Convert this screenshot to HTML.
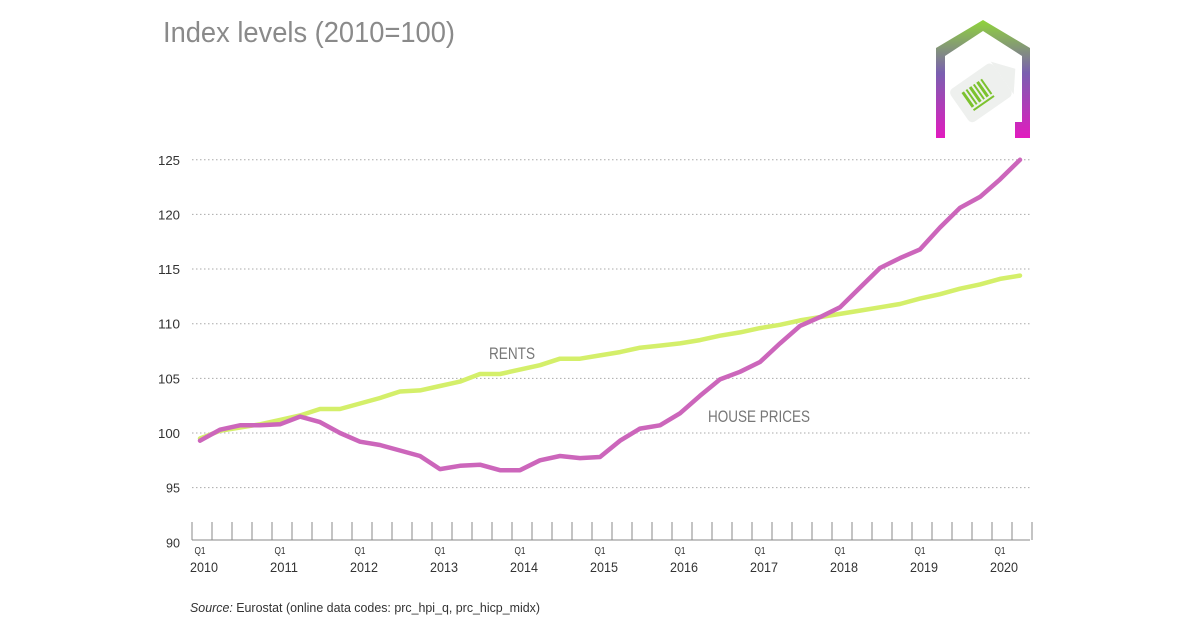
<!DOCTYPE html>
<html><head><meta charset="utf-8"><style>
body{margin:0;background:#fff;width:1200px;height:627px;overflow:hidden;font-family:"Liberation Sans",sans-serif}
</style></head><body>
<svg width="1200" height="627" xmlns="http://www.w3.org/2000/svg" font-family="Liberation Sans, sans-serif">
<defs><linearGradient id="g" x1="0" y1="0" x2="0" y2="1">
<stop offset="0" stop-color="#8fd43a"/><stop offset="0.45" stop-color="#7a5fb0"/><stop offset="1" stop-color="#e21bbf"/></linearGradient></defs>
<text x="163" y="42" font-size="29" fill="#8a8a8a" textLength="292" lengthAdjust="spacingAndGlyphs">Index levels (2010=100)</text>
<path d="M936,138 L936,48 L983,20 L1030,48 L1030,138 L1015,138 L1015,122 L1022,122 L1022,56 L983,31 L945,56 L945,138 Z" fill="url(#g)"/>
<g transform="rotate(-35 985 90)"><rect x="954" y="70" width="52" height="40" rx="5" fill="#eef0ee"/><polygon points="1006,70 1022,90 1006,110" fill="#eef0ee"/>
<g fill="#7cc22e"><rect x="964" y="79" width="3" height="18"/><rect x="969" y="79" width="2" height="18"/><rect x="973" y="79" width="3" height="18"/><rect x="978" y="79" width="2" height="18"/><rect x="982" y="79" width="3" height="18"/><rect x="987" y="79" width="2" height="18"/><rect x="964" y="99" width="25" height="2"/></g></g>
<g id="grid" stroke="#aaa" stroke-dasharray="1.5 2.5" stroke-width="1"></g>
<g id="ylab" font-size="13" fill="#333" text-anchor="end"></g>
<line x1="192" y1="540" x2="1030" y2="540" stroke="#888"/>
<g id="ticks" stroke="#888"></g>
<g id="xlab" fill="#333" text-anchor="middle"></g>
<polyline id="rent" fill="none" stroke="#d4ef6a" stroke-width="4.5" stroke-linejoin="round" stroke-linecap="round"/>
<polyline id="house" fill="none" stroke="#cc66bb" stroke-width="4.5" stroke-linejoin="round" stroke-linecap="round"/>
<text x="489" y="359" font-size="17" fill="#777" textLength="46" lengthAdjust="spacingAndGlyphs">RENTS</text>
<text x="708" y="422" font-size="17" fill="#777" textLength="102" lengthAdjust="spacingAndGlyphs">HOUSE PRICES</text>
<text x="190" y="612" font-size="13" fill="#333" textLength="350" lengthAdjust="spacingAndGlyphs"><tspan font-style="italic">Source:</tspan> Eurostat (online data codes: prc_hpi_q, prc_hicp_midx)</text>
</svg>
<script>
var ns="http://www.w3.org/2000/svg";
function el(p,t,a,txt){var e=document.createElementNS(ns,t);for(var k in a)e.setAttribute(k,a[k]);if(txt)e.textContent=txt;document.getElementById(p).appendChild(e);}
function Y(v){return 433-(v-100)*10.93;}
for(var v=95;v<=125;v+=5){el("grid","line",{x1:192,x2:1030,y1:Y(v),y2:Y(v)});}
for(var v=90;v<=125;v+=5){el("ylab","text",{x:180,y:Y(v)+5,textLength:(v>=100?22:14),lengthAdjust:"spacingAndGlyphs"},""+v);}
for(var i=0;i<=42;i++){var x=192+i*20;el("ticks","line",{x1:x,x2:x,y1:522,y2:540});}
for(var y=0;y<=10;y++){var x=200+80*y;el("xlab","text",{x:x,y:554,"font-size":10,textLength:11,lengthAdjust:"spacingAndGlyphs"},"Q1");el("xlab","text",{x:x+4,y:572,"font-size":14,textLength:28,lengthAdjust:"spacingAndGlyphs"},""+(2010+y));}
var h=[99.3,100.3,100.7,100.7,100.8,101.5,101.0,100.0,99.2,98.9,98.4,97.9,96.7,97.0,97.1,96.6,96.6,97.5,97.9,97.7,97.8,99.3,100.4,100.7,101.8,103.4,104.9,105.6,106.5,108.2,109.8,110.6,111.5,113.3,115.1,116.0,116.8,118.8,120.6,121.6,123.2,125.0];
var r=[99.5,100.2,100.5,100.8,101.2,101.6,102.2,102.2,102.7,103.2,103.8,103.9,104.3,104.7,105.4,105.4,105.8,106.2,106.8,106.8,107.1,107.4,107.8,108.0,108.2,108.5,108.9,109.2,109.6,109.9,110.3,110.6,110.9,111.2,111.5,111.8,112.3,112.7,113.2,113.6,114.1,114.4];
function pts(a){return a.map(function(v,i){return (200+20*i)+","+Y(v).toFixed(1)}).join(" ");}
document.getElementById("rent").setAttribute("points",pts(r));
document.getElementById("house").setAttribute("points",pts(h));
</script>
</body></html>
